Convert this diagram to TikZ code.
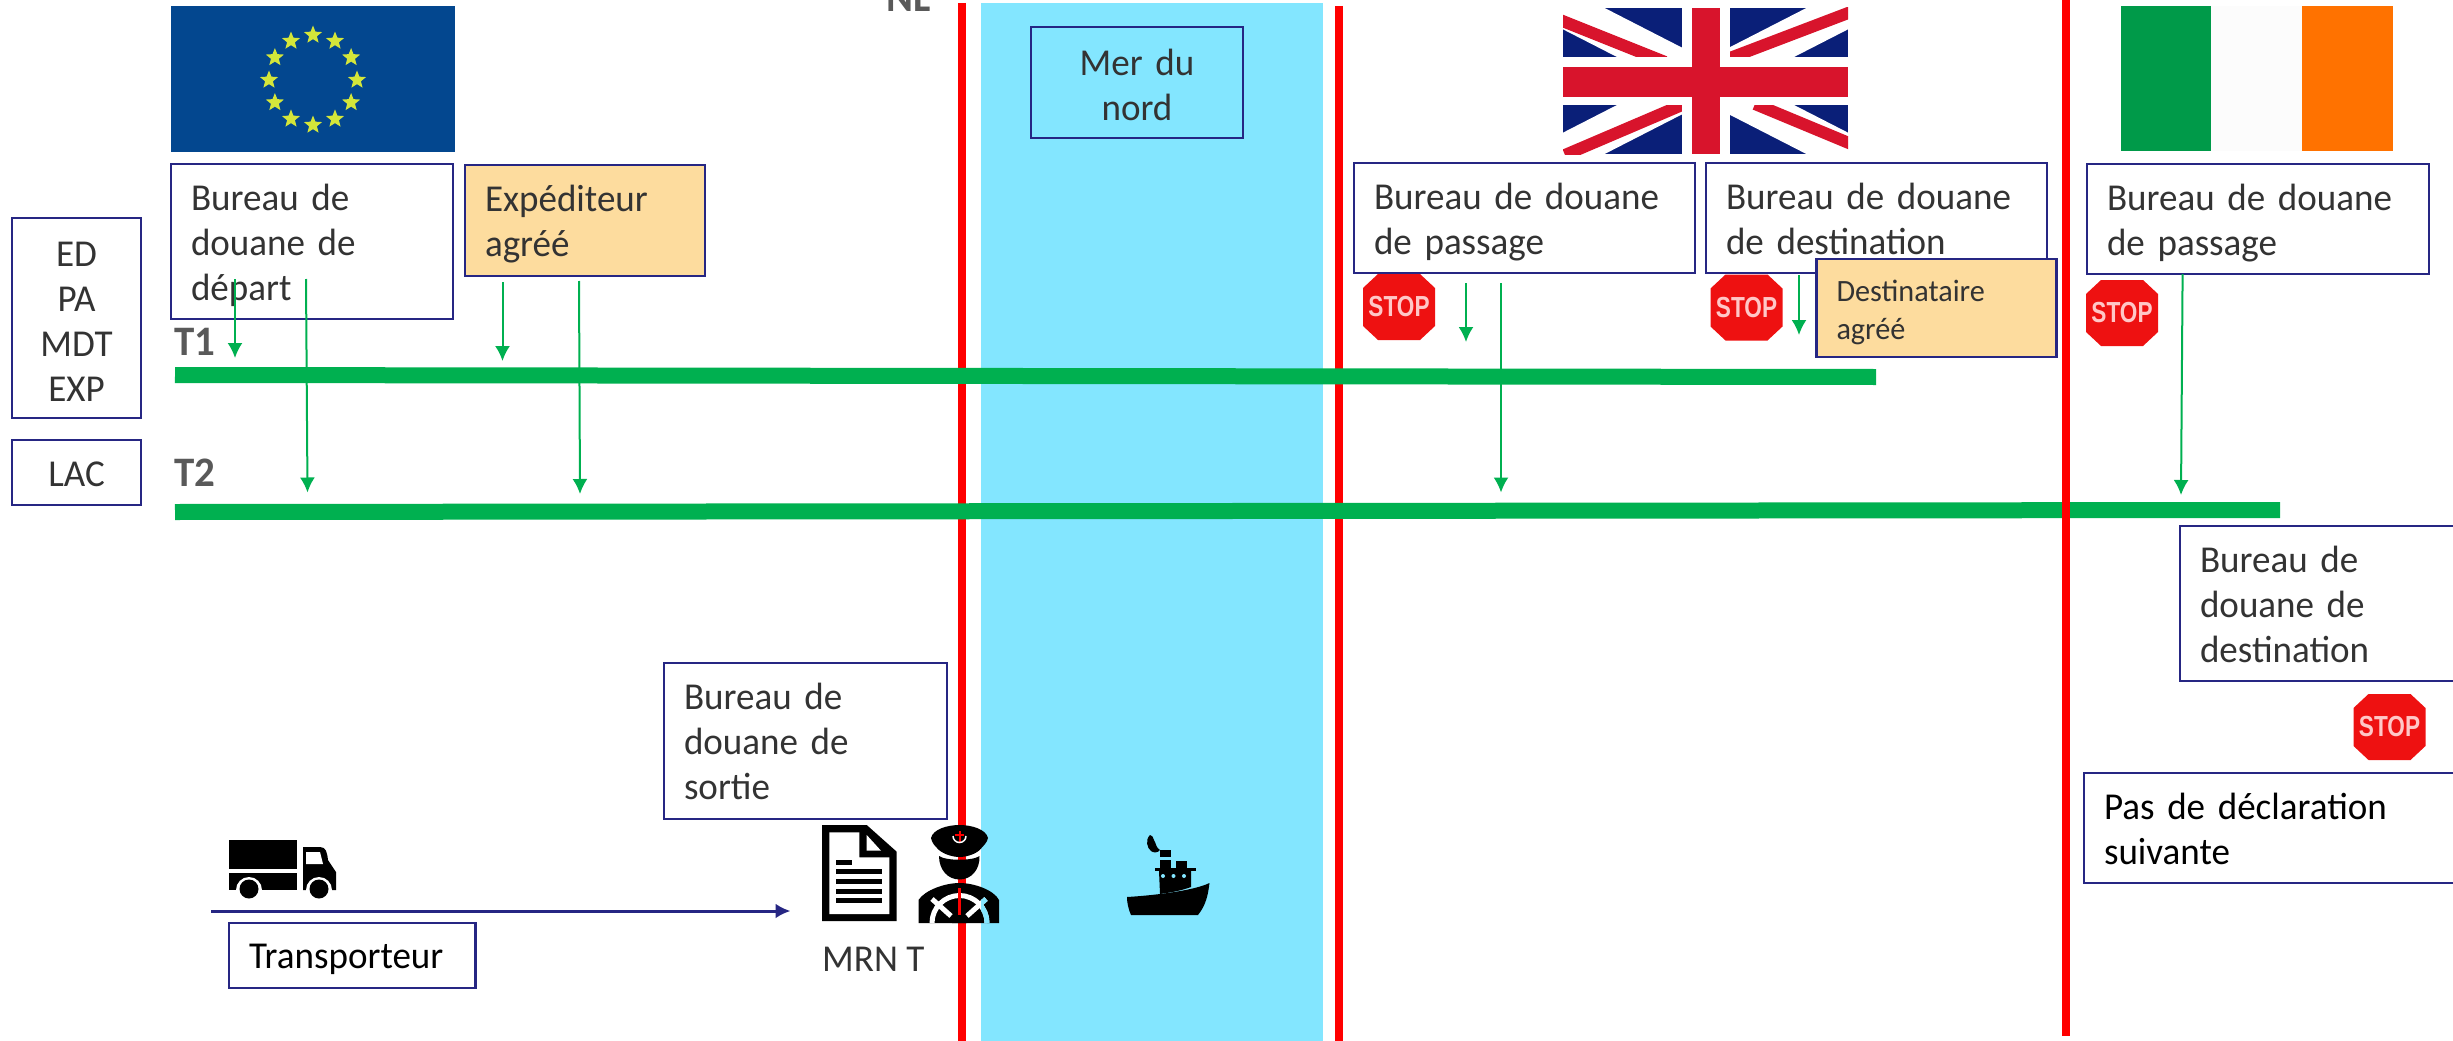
\documentclass[tikz,border=0pt]{standalone}
\usepackage{fontspec}
\setmainfont[FakeStretch=0.975]{Carlito}
\newfontfamily\stopfont[FakeStretch=0.78]{Liberation Sans}
\usetikzlibrary{shapes.geometric,arrows.meta}
\definecolor{navy}{HTML}{262683}
\definecolor{txt}{HTML}{333333}
\definecolor{grn}{HTML}{00B050}
\definecolor{sea}{HTML}{83E6FF}
\definecolor{peach}{HTML}{FDDC9E}
\definecolor{grytxt}{HTML}{595959}
\definecolor{ukblue}{HTML}{0A1F78}
\definecolor{ukred}{HTML}{D8142C}
\definecolor{eublue}{HTML}{03478F}
\definecolor{eustar}{HTML}{D4E63A}
\definecolor{stopred}{HTML}{EE1111}
\definecolor{irgreen}{HTML}{009A49}
\definecolor{irorange}{HTML}{FF7200}
\tikzset{
  bx/.style 2 args={draw=navy,line width=2.2pt,anchor=north west,outer sep=0pt,inner xsep=20pt,inner ysep=0pt,
    text width={#1pt-40pt},minimum height=#2pt,align=left,text=txt,font=\fontsize{38}{45}\selectfont,
    execute at begin node={\rule{0pt}{\dimexpr.7\baselineskip+9pt\relax}},execute at end node=\strut},
  bxc/.style 2 args={draw=navy,line width=2.2pt,anchor=north west,outer sep=0pt,inner sep=0pt,
    text width=#1pt,minimum height=#2pt,align=center,text=txt,font=\fontsize{38}{45}\selectfont,
    execute at begin node={\rule{0pt}{\dimexpr.7\baselineskip+13pt\relax}},execute at end node=\strut},
  redline/.style={draw=red,line width=8pt},
  bar/.style={draw=grn,line width=16pt},
  garrow/.style={draw=grn,line width=2pt,-{Latex[length=15pt,width=15pt]}},
  tlab/.style={text=grytxt,font=\bfseries\fontsize{42}{42}\selectfont,inner sep=0pt},
  stoptxt/.style={text=white!78!red,inner sep=0pt,font=\stopfont\bfseries\fontsize{29}{29}\selectfont},
}
\newcommand{\stopsign}[3]{%
  \begin{scope}[shift={(#2,#3)}]
  \fill[stopred] (-21,-33) -- (21,-33) -- (36,-19) -- (36,19) -- (21,33) -- (-21,33) -- (-36,19) -- (-36,-19) -- cycle;
  \end{scope}
  \node[stoptxt] (#1) at (#2,#3) {STOP};
}
\newcommand{\wheelparts}[1]{%
  \draw[#1,line width=5pt] (932,923) arc (180:360:27.5);
  \draw[#1,line width=5pt] (932,899) -- (951,916);
  \draw[#1,line width=5pt] (986,899) -- (967,916);
}
\begin{document}
\begin{tikzpicture}[x=1pt,y=-1pt]
\useasboundingbox (0,0) rectangle (2453,1041);
% sea and borders
\fill[sea] (981,3) rectangle (1323,1041);
\draw[redline] (962,3) -- (962,1041);
\draw[redline] (1339,6) -- (1339,1041);
% EU flag
\fill[eublue] (171,6) rectangle (455,152);
\foreach \i in {0,...,11}{
  \node[star,star points=5,star point ratio=2.3,fill=eustar,draw=none,inner sep=0pt,minimum size=19pt] (eu\i) at ({313+44*cos(30*\i)},{80+45*sin(30*\i)}) {};
}
% UK flag
\begin{scope}
\clip (1563,8) rectangle (1848,154);
\fill[ukblue] (1563,8) rectangle (1848,154);
\draw[white,line width=38pt] (1563,8) -- (1848,154);
\draw[white,line width=38pt] (1848,8) -- (1563,154);
\draw[ukred,line width=12pt] (1555,18) -- (1665,62);
\draw[ukred,line width=12pt] (1856,10) -- (1730,58);
\draw[ukred,line width=12pt] (1755,104) -- (1856,146);
\draw[ukred,line width=12pt] (1565,155) -- (1682,105);
\fill[white] (1682,8) rectangle (1730,154);
\fill[white] (1563,57) rectangle (1848,105);
\fill[ukred] (1692,8) rectangle (1720,154);
\fill[ukred] (1563,67) rectangle (1848,97);
\end{scope}
% Irish flag
\fill[white!99!black] (2121,6) rectangle (2393,151);
\fill[irgreen] (2121,6) rectangle (2211,151);
\fill[irorange] (2302,6) rectangle (2393,151);
% bars
\coordinate (t1s) at (175,375); \coordinate (t1e) at (1876,377);
\coordinate (t2s) at (175,512); \coordinate (t2e) at (2280,510);
\draw[bar] (t1s) -- (t1e);
\draw[bar] (t2s) -- (t2e);
\draw[redline] (2066,0) -- (2066,1036);
% labels
\node[tlab,anchor=west] (t1) at (174,342) {T1};
\node[tlab,anchor=west] (t2) at (174,473) {T2};
\node[tlab,anchor=west] (nl) at (886,-2) {NL};
% boxes
\node[bxc={129}{200}] (edbox) at (12,218) {ED\\PA\\MDT\\EXP};
\node[bxc={129}{65},text height=37pt,text depth=10pt] (lac) at (12,440) {LAC};
\node[bx={282}{155}] (dep) at (171,164) {Bureau de\\douane de\\départ};
\node[bx={240}{111},fill=peach] (exp) at (465,165) {Expéditeur\\agréé};
\node[bxc={212}{111}] (mer) at (1031,27) {Mer du\\nord};
\node[bx={341}{110}] (pass1) at (1354,163) {Bureau de douane\\de passage};
\node[bx={341}{110}] (dest1) at (1706,163) {Bureau de douane\\de destination};
\node[bx={240}{98},fill=peach,font=\fontsize{31}{38}\selectfont] (agr) at (1816.5,259) {Destinataire\\agréé};
\node[bx={342}{110}] (pass2) at (2087,164) {Bureau de douane\\de passage};
\node[bx={300}{155}] (dest2) at (2180,526) {Bureau de\\douane de\\destination};
\node[bx={400}{110},text=black] (pasdecl) at (2084,773) {Pas de déclaration\\suivante};
\node[bx={283}{156}] (sortie) at (664,663) {Bureau de\\douane de\\sortie};
\node[bx={246.5}{65},text=black,text height=35pt,text depth=10pt] (transp) at (229,923) {Transporteur};
\node[anchor=west,inner sep=0pt,text=txt,font=\fontsize{38}{45}\selectfont] (mrn) at (822,959) {MRN T};
% stop signs
\stopsign{st1}{1399}{307}
\stopsign{st2}{1746.5}{307.5}
\stopsign{st3}{2122}{313}
\stopsign{st4}{2389.5}{727}
% green arrows
\coordinate (a1s) at (235,279); \coordinate (a1e) at (235,358);
\coordinate (a2s) at (306,279); \coordinate (a2e) at (307.5,492.5);
\coordinate (a3s) at (502.5,282); \coordinate (a3e) at (502.5,361);
\coordinate (a4s) at (579,281); \coordinate (a4e) at (580,494);
\coordinate (a5s) at (1466,283); \coordinate (a5e) at (1466,342);
\coordinate (a6s) at (1501,283); \coordinate (a6e) at (1501,492.5);
\coordinate (a7s) at (1799,275); \coordinate (a7e) at (1799,335);
\coordinate (a8s) at (2182.6,274); \coordinate (a8e) at (2181,495);
\foreach \k in {1,...,8}{\draw[garrow] (a\k s) -- (a\k e);}
% transporter arrow
\coordinate (trs) at (211,911); \coordinate (tre) at (790.5,911);
\draw[navy,line width=3pt,-{Latex[length=15pt,width=15pt]}] (trs) -- (tre);
% truck
\fill[black] (229,840) rectangle (297,869);
\fill[black] (229,873) rectangle (297,890);
\fill[black] (303,847) -- (320,847) .. controls (326,847) and (327,852) .. (328,860) -- (336,872) -- (336,890) -- (303,890) -- cycle;
\fill[white] (306,852) -- (320,852) -- (323,864) -- (306,864) -- cycle;
\fill[white] (249,890) circle (13);
\fill[white] (319,890) circle (13);
\fill[black] (249,889) circle (9.5);
\fill[black] (319,889) circle (9.5);
% document
\fill[black] (822,825) -- (866.7,825) -- (896.7,851.7) -- (896.7,921) -- (822,921) -- cycle;
\fill[white] (829.3,832.3) -- (859.3,832.3) -- (859.3,857.3) -- (889.3,857.3) -- (889.3,914) -- (829.3,914) -- cycle;
\fill[white] (866.7,835) -- (881,850.7) -- (866.7,850.7) -- cycle;
\fill[black] (836,860) rectangle (852,865);
\fill[black] (836,869) rectangle (882,874);
\fill[black] (836,879) rectangle (882,884);
\fill[black] (836,889) rectangle (882,894);
\fill[black] (836,898) rectangle (882,903);
% officer
\fill[black] (931,838) .. controls (933,829) and (948,825) .. (959.5,825) .. controls (971,825) and (986,829) .. (988,838) .. controls (987,843) and (983,846) .. (981.5,848) .. controls (978,853) and (968,857) .. (959.5,857) .. controls (951,857) and (941,853) .. (937,848) .. controls (935,846) and (932,843) .. (931,838) -- cycle;
\fill[black] (939,856) .. controls (946,861) and (973,861) .. (979.5,856) .. controls (980,870) and (971,879.5) .. (959.5,879.5) .. controls (948,879.5) and (939,870) .. (939,856) -- cycle;
\fill[black] (918.5,923) -- (918.5,900) .. controls (925,890) and (945,883) .. (959.5,883) .. controls (974,883) and (994,890) .. (999,900) -- (999,923) -- cycle;
\wheelparts{white}
\begin{scope}
\clip (981,880) rectangle (1000,925);
\wheelparts{sea}
\end{scope}
\fill[black] (952,923) arc (180:360:7.5);
\draw[red,line width=3pt] (959.5,888) -- (959.5,915);
\draw[red,line width=2pt] (959.5,831) -- (959.5,842) (955,835) -- (964,835);
\draw[white,line width=1.5pt] (953,836) arc (180:0:6.5);
% ship
\fill[black] (1127,897) .. controls (1160,895) and (1195,890) .. (1209.5,883) .. controls (1208,895) and (1206,905) .. (1198,915) -- (1131,915) .. controls (1128,908) and (1127,902) .. (1127,897) -- cycle;
\fill[black] (1155,868) rectangle (1195.5,871);
\fill[black] (1159,871) -- (1191,871) -- (1191,887) .. controls (1180,891) and (1170,892.5) .. (1160,894) -- cycle;
\fill[black] (1160,860) rectangle (1171,868);
\fill[black] (1176,861) rectangle (1187,868);
\fill[sea] (1163,876) circle (2);
\fill[sea] (1173.5,876) circle (2);
\fill[sea] (1184,876) circle (2);
\fill[black] (1150,835) .. controls (1145,840) and (1147,848) .. (1151,851) .. controls (1153,853) and (1158,853) .. (1160,850) .. controls (1156,848) and (1156,843) .. (1154,840) .. controls (1153,837) and (1152,835) .. (1150,835) -- cycle;
\fill[black] (1160,850) rectangle (1171,857);
\end{tikzpicture}
\end{document}
